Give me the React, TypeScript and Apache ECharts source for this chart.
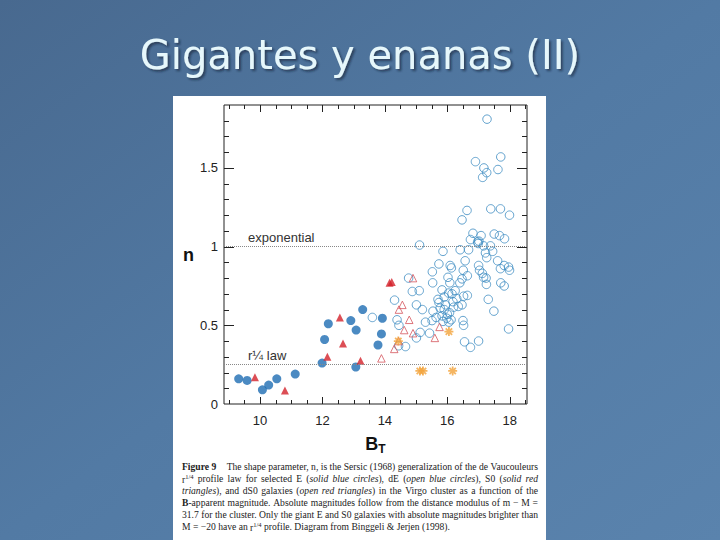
import React, { useEffect, useRef } from "react";
import * as echarts from "echarts";

// ---- data ----
// Solid blue circles: E galaxies
const eX = [9.32, 9.59, 10.08, 10.28, 10.54, 11.13, 11.99, 12.07, 12.19, 12.91, 13.08, 13.29, 13.07, 13.92, 13.89, 13.78];
const eN = [0.16, 0.15, 0.09, 0.12, 0.16, 0.19, 0.26, 0.41, 0.51, 0.53, 0.47, 0.6, 0.235, 0.545, 0.445, 0.375];

// Solid red triangles: S0 galaxies
const s0X = [9.84, 10.8, 12.16, 12.56, 12.66, 13.22, 14.15, 14.22];
const s0N = [0.17, 0.085, 0.3, 0.55, 0.385, 0.275, 0.77, 0.775];

// Open red triangles: dS0 galaxies
const dS0X = [14.9, 14.56, 14.45, 14.78, 14.62, 14.9, 15.6, 15.75, 14.44, 14.3, 13.89];
const dS0N = [0.8, 0.63, 0.6, 0.535, 0.47, 0.45, 0.42, 0.49, 0.4, 0.35, 0.29];

// Orange asterisks
const starX = [16.05, 15.12, 15.22, 16.17, 14.43];
const starN = [0.46, 0.21, 0.21, 0.21, 0.4];

// Open blue circles: dE galaxies
const dEX = [
  17.27,
  16.9, 17.17, 17.26, 17.13, 17.71, 17.62,
  16.63, 16.47, 17.39, 17.7, 17.99,
  15.11,
  16.82, 17.08, 17.5, 17.67, 17.83,
  16.74, 16.97, 16.99, 17.01,
  17.16, 17.38,
  16.41, 16.68, 15.86, 17.22, 17.45, 17.26,
  16.57, 15.73, 16.09, 16.13, 17.0, 15.52, 16.51,
  17.03, 17.12, 17.16, 17.24,
  17.61, 17.82, 17.7, 17.99, 17.96,
  16.47, 16.64, 16.08, 16.4, 15.53, 16.02,
  17.71, 17.82, 17.25,
  14.76,
  14.88, 15.1,
  15.83, 16.04, 16.15, 16.25, 16.52, 16.64, 15.9, 15.7, 17.31,
  14.31, 15.01,
  15.2, 15.54, 15.77, 15.94, 15.73, 16.18, 16.2, 16.47, 16.07, 15.83, 15.98, 16.12,
  17.49,
  14.39, 14.45, 15.3, 15.51, 15.64, 15.86, 16.5, 16.52,
  17.96,
  15.13, 15.43, 15.01,
  14.44, 14.66,
  16.55, 16.74, 17.0,
  13.6,
  15.9, 16.0, 16.35, 16.3, 16.05,
];
const dEN = [
  1.81,
  1.54, 1.5, 1.47, 1.44, 1.57, 1.49,
  1.23, 1.17, 1.24, 1.24, 1.2,
  1.01,
  1.085, 1.07, 1.08, 1.07, 1.05,
  1.045, 1.03, 1.02, 1.035,
  1.005, 1.005,
  0.98, 0.98, 0.97, 0.96, 0.97, 0.93,
  0.91, 0.89, 0.88, 0.865, 0.88, 0.84, 0.85,
  0.85, 0.83, 0.805, 0.8,
  0.91, 0.88, 0.86, 0.85, 0.87,
  0.795, 0.815, 0.77, 0.77, 0.77, 0.805,
  0.77, 0.75, 0.76,
  0.8,
  0.715, 0.72,
  0.725, 0.705, 0.7, 0.72, 0.685, 0.69, 0.68, 0.665, 0.665,
  0.66, 0.63,
  0.6, 0.59, 0.61, 0.63, 0.645, 0.65, 0.615, 0.63, 0.58, 0.56, 0.545, 0.535,
  0.59,
  0.535, 0.5, 0.52, 0.53, 0.55, 0.525, 0.53, 0.5,
  0.477,
  0.455, 0.45, 0.42,
  0.37, 0.365,
  0.395, 0.36, 0.4,
  0.55,
  0.6, 0.57, 0.62, 0.67, 0.52,
];

// axis ticks & labels
const xMinorTicks = [9, 9.5, 10.5, 11, 11.5, 12.5, 13, 13.5, 14.5, 15, 15.5, 16.5, 17, 17.5, 18.5];
const xMajorTicks = [10, 12, 14, 16, 18];
const xLabels = [10, 12, 14, 16, 18];
const yMinorTicks = [0.1, 0.2, 0.3, 0.4, 0.6, 0.7, 0.8, 0.9, 1.1, 1.2, 1.3, 1.4, 1.6, 1.7, 1.8];
const yMajorTicks = [0.5, 1, 1.5];
const yLabels = [0, 0.5, 1, 1.5];

const refLines = [
  { value: 1, label: "exponential" },
  { value: 0.25, label: "r\u00BC law" },
];

type Seg = [string, string];
const captionLines: Seg[][] = [
  [["b", "Figure\u00A09"], ["", " The shape parameter, n, is the Sersic (1968) generalization of the de Vaucouleurs"]],
  [["", "r"], ["sup", "1/4"], ["", " profile law for selected E ("], ["i", "solid blue circles"], ["", "), dE ("], ["i", "open blue circles"], ["", "), S0 ("], ["i", "solid red"]],
  [["i", "triangles"], ["", "), and dS0 galaxies ("], ["i", "open red triangles"], ["", ") in the Virgo cluster as a function of the"]],
  [["b", "B"], ["", "-apparent magnitude. Absolute magnitudes follow from the distance modulus of m \u2212 M ="]],
  [["", "31.7 for the cluster. Only the giant E and S0 galaxies with absolute magnitudes brighter than"]],
  [["", "M = \u221220 have an r"], ["sup", "1/4"], ["", " profile. Diagram from Binggeli & Jerjen (1998)."]],
];

const zip = (xs: number[], ys: number[]) => xs.map((x, i) => [x, ys[i]]);

const ASTERISK =
  "path://M-1,-5L1,-5L1,5L-1,5Z" +
  "M5,-1L5,1L-5,1L-5,-1Z" +
  "M2.83,-4.24L4.24,-2.83L-2.83,4.24L-4.24,2.83Z" +
  "M-4.24,-2.83L-2.83,-4.24L4.24,2.83L2.83,4.24Z";

const X_MIN = 8.85;
const X_MAX = 18.55;
const Y_MIN = 0;
const Y_MAX = 1.9;

const CAP_FONT = "Liberation Serif";
const CAP_SIZE = 9.6;
const SUP_SIZE = 6.5;

function buildCaption(): any[] {
  const canvas = document.createElement("canvas");
  const ctx = canvas.getContext("2d")!;
  const fontFor = (st: string) => {
    if (st === "b") return `bold ${CAP_SIZE}px "${CAP_FONT}"`;
    if (st === "i") return `italic ${CAP_SIZE}px "${CAP_FONT}"`;
    if (st === "sup") return `${SUP_SIZE}px "${CAP_FONT}"`;
    return `${CAP_SIZE}px "${CAP_FONT}"`;
  };
  const measure = (st: string, t: string) => {
    ctx.font = fontFor(st);
    return ctx.measureText(t).width;
  };
  const left = 182;
  const width = 356;
  const els: any[] = [];
  captionLines.forEach((segs, li) => {
    const words: Seg[][] = [];
    let cur: Seg[] = [];
    for (const [st, txt] of segs) {
      const parts = txt.split(" ");
      parts.forEach((p, k) => {
        if (k > 0 && cur.length) {
          words.push(cur);
          cur = [];
        }
        if (p) cur.push([st, p]);
      });
    }
    if (cur.length) words.push(cur);
    const widths = words.map((w) => w.reduce((s, [st, p]) => s + measure(st, p), 0));
    const total = widths.reduce((a, b) => a + b, 0);
    const isLast = li === captionLines.length - 1;
    const extraFirst = li === 0 ? 8 : 0;
    const gap = isLast
      ? measure("", " ")
      : (width - total - extraFirst) / Math.max(1, words.length - 1);
    let x = left;
    words.forEach((w, wi) => {
      const text = w.map(([st, p]) => (st ? `{${st}|${p}}` : p)).join("");
      els.push({
        type: "text",
        z: 10,
        x,
        y: 461 + li * 12,
        style: {
          text,
          fontFamily: CAP_FONT,
          fontSize: CAP_SIZE,
          fill: "#222",
          rich: {
            b: { fontFamily: CAP_FONT, fontSize: CAP_SIZE, fontWeight: "bold", fill: "#222" },
            i: { fontFamily: CAP_FONT, fontSize: CAP_SIZE, fontStyle: "italic", fill: "#222" },
            sup: { fontFamily: CAP_FONT, fontSize: SUP_SIZE, fill: "#222", padding: [0, 0, 6, 0] },
          },
        },
      });
      x += widths[wi] + gap + (wi === 0 ? extraFirst : 0);
    });
  });
  return els;
}

export default function App() {
  const ref = useRef<HTMLDivElement>(null);

  useEffect(() => {
    if (!ref.current) return;
    const chart = echarts.init(ref.current, undefined, { renderer: "svg" });

    const axisColor = "#222";
    const labelFont = "Liberation Sans";

    // tick data: [value, kind (0 = x tick, 1 = y tick), length]
    const tickData = [
      ...xMinorTicks.map((v) => [v, 0, 4]),
      ...xMajorTicks.map((v) => [v, 0, 7]),
      ...yMinorTicks.map((v) => [v, 1, 5]),
      ...yMajorTicks.map((v) => [v, 1, 10]),
    ];

    const option: any = {
      animation: false,
      backgroundColor: new echarts.graphic.LinearGradient(0, 0, 1, 1, [
        { offset: 0, color: "#48698f" },
        { offset: 0.5, color: "#527aa4" },
        { offset: 1, color: "#5a83ad" },
      ]),
      title: {
        text: "Gigantes y enanas (II)",
        left: "center",
        top: 30,
        textStyle: {
          fontFamily: "DejaVu Sans",
          fontSize: 40,
          fontWeight: "normal",
          color: "#e6f7fb",
          textShadowColor: "rgba(20,30,50,0.6)",
          textShadowOffsetX: 2,
          textShadowOffsetY: 2,
          textShadowBlur: 2,
        },
      },
      graphic: [
        {
          type: "rect",
          z: -10,
          shape: { x: 173, y: 96, width: 373, height: 450 },
          style: { fill: "#ffffff" },
        },
        ...buildCaption(),
      ],
      grid: {
        left: 224,
        right: 193,
        top: 105,
        bottom: 136,
        containLabel: false,
        show: true,
        borderColor: axisColor,
        borderWidth: 1,
        backgroundColor: "rgba(0,0,0,0)",
      },
      xAxis: {
        type: "value",
        min: X_MIN,
        max: X_MAX,
        splitLine: { show: false },
        name: "{b|B}{t|T}",
        nameLocation: "middle",
        nameGap: 29,
        nameTextStyle: {
          rich: {
            b: { fontFamily: labelFont, fontSize: 18, fontWeight: "bold", color: "#111" },
            t: { fontFamily: labelFont, fontSize: 12, fontWeight: "bold", color: "#111", padding: [10, 0, 0, 0] },
          },
        },
        axisLine: { show: false },
        axisTick: { show: false },
        axisLabel: { show: true, customValues: xLabels, margin: 10, fontFamily: labelFont, fontSize: 13, color: "#222" },
      },
      yAxis: {
        type: "value",
        min: Y_MIN,
        max: Y_MAX,
        splitLine: { show: false },
        name: "n",
        nameLocation: "middle",
        nameRotate: 0,
        nameGap: 30,
        nameTextStyle: { fontFamily: labelFont, fontSize: 18, fontWeight: "bold", color: "#111" },
        axisLine: { show: false },
        axisTick: { show: false },
        axisLabel: { show: true, customValues: yLabels, margin: 6, fontFamily: labelFont, fontSize: 13, color: "#222" },
      },
      series: [
        {
          name: "ticks",
          type: "custom",
          silent: true,
          clip: false,
          z: 5,
          data: tickData,
          renderItem: (_params: any, api: any) => {
            const v = api.value(0);
            const kind = api.value(1);
            const len = api.value(2);
            const st = { stroke: axisColor, lineWidth: 1 };
            const r = (n: number) => Math.round(n) + 0.5;
            if (kind === 0) {
              const b = api.coord([v, Y_MIN]);
              const t = api.coord([v, Y_MAX]);
              const x = r(b[0]);
              return {
                type: "group",
                children: [
                  { type: "line", shape: { x1: x, y1: b[1], x2: x, y2: b[1] - len }, style: st },
                  { type: "line", shape: { x1: x, y1: t[1], x2: x, y2: t[1] + len }, style: st },
                ],
              };
            }
            const lft = api.coord([X_MIN, v]);
            const rgt = api.coord([X_MAX, v]);
            const y = r(lft[1]);
            return {
              type: "group",
              children: [
                { type: "line", shape: { x1: lft[0], y1: y, x2: lft[0] + len, y2: y }, style: st },
                { type: "line", shape: { x1: rgt[0], y1: y, x2: rgt[0] - len, y2: y }, style: st },
              ],
            };
          },
        },
        {
          name: "dE",
          type: "scatter",
          symbol: "circle",
          symbolSize: 8.5,
          data: zip(dEX, dEN),
          itemStyle: { color: "rgba(255,255,255,0)", borderColor: "#3d8cc2", borderWidth: 1 },
          markLine: {
            silent: true,
            symbol: ["none", "none"],
            lineStyle: { type: "dotted", color: "#888", width: 1 },
            label: {
              show: true,
              position: "insideStartTop",
              fontFamily: labelFont,
              fontSize: 13,
              color: "#333",
              padding: [0, 0, -2, 19],
            },
            data: refLines.map((r) => ({ yAxis: r.value, label: { formatter: r.label } })),
          },
        },
        {
          name: "dS0",
          type: "scatter",
          symbol: "triangle",
          symbolSize: 7.5,
          data: zip(dS0X, dS0N),
          itemStyle: { color: "rgba(255,255,255,0)", borderColor: "#d4555d", borderWidth: 1 },
        },
        {
          name: "E",
          type: "scatter",
          symbol: "circle",
          symbolSize: 9,
          data: zip(eX, eN),
          itemStyle: { color: "#1e6db3" },
        },
        {
          name: "S0",
          type: "scatter",
          symbol: "triangle",
          symbolSize: 8,
          data: zip(s0X, s0N),
          itemStyle: { color: "#d3222b" },
        },
        {
          name: "stars",
          type: "scatter",
          symbol: ASTERISK,
          symbolSize: 9,
          data: zip(starX, starN),
          itemStyle: { color: "#f2a23a" },
        },
      ],
    };

    chart.setOption(option);
    return () => chart.dispose();
  }, []);

  return <div ref={ref} style={{ position: "fixed", left: 0, top: 0, width: 720, height: 540 }} />;
}
